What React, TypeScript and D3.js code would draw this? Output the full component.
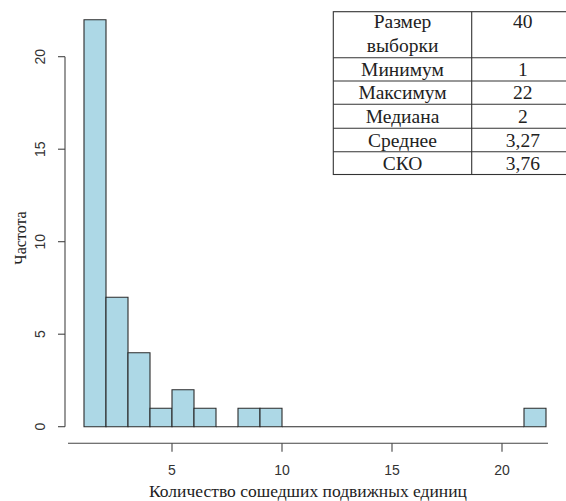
import React, { useEffect, useRef } from "react";
import * as d3 from "d3";

// histogram: bins of width 1 starting at 1
const binStart = 1;
const counts = [22, 7, 4, 1, 2, 1, 0, 1, 1, 0, 0, 0, 0, 0, 0, 0, 0, 0, 0, 0, 1];
const xTicks = [5, 10, 15, 20];
const yTicks = [0, 5, 10, 15, 20];
const xTitle = "Количество сошедших подвижных единиц";
const yTitle = "Частота";

// summary table
const statNames = [["Размер", "выборки"], ["Минимум"], ["Максимум"], ["Медиана"], ["Среднее"], ["СКО"]];
const statValues = ["40", "1", "22", "2", "3,27", "3,76"];

const W = 566;
const H = 501;
const serif = "'Liberation Serif', 'Times New Roman', 'DejaVu Serif', serif";
const sans = "'Liberation Sans', Arial, sans-serif";

const App = () => {
  const ref = useRef<SVGSVGElement>(null);

  useEffect(() => {
    const svg = d3.select(ref.current);
    svg.selectAll("*").remove();

    const x = d3.scaleLinear().domain([1, 22]).range([84, 546]);
    const y = d3.scaleLinear().domain([0, 20]).range([426.7, 56.7]);

    const bins = counts.map((c, i) => ({ x0: binStart + i, x1: binStart + i + 1, c }));

    svg
      .append("g")
      .selectAll("path")
      .data(bins)
      .join("path")
      .attr("d", (d) => `M${x(d.x0)},${y(0)}V${y(d.c)}H${x(d.x1)}V${y(0)}Z`)
      .attr("fill", "#add8e6")
      .attr("stroke", "#2b2b2b")
      .attr("stroke-width", 1.1);

    // y axis
    const ya = svg.append("g").attr("stroke", "#444").attr("stroke-width", 1.1);
    ya.append("line").attr("x1", 65).attr("x2", 65).attr("y1", y(0)).attr("y2", y(20));
    ya.selectAll("line.t")
      .data(yTicks)
      .join("line")
      .attr("class", "t")
      .attr("x1", 58)
      .attr("x2", 65)
      .attr("y1", (d) => y(d))
      .attr("y2", (d) => y(d));
    svg
      .append("g")
      .selectAll("text")
      .data(yTicks)
      .join("text")
      .attr("transform", (d) => `translate(45,${y(d)}) rotate(-90)`)
      .attr("text-anchor", "middle")
      .style("font-family", sans)
      .attr("font-size", 14)
      .attr("fill", "#333")
      .text((d) => d);

    // x axis
    const xa = svg.append("g").attr("stroke", "#444").attr("stroke-width", 1.1);
    xa.append("line").attr("x1", 68).attr("x2", 548).attr("y1", 443.3).attr("y2", 443.3);
    xa.selectAll("line.t")
      .data(xTicks)
      .join("line")
      .attr("class", "t")
      .attr("x1", (d) => x(d))
      .attr("x2", (d) => x(d))
      .attr("y1", 443.3)
      .attr("y2", 451.7);
    svg
      .append("g")
      .selectAll("text")
      .data(xTicks)
      .join("text")
      .attr("x", (d) => x(d))
      .attr("y", 475)
      .attr("text-anchor", "middle")
      .style("font-family", sans)
      .attr("font-size", 14)
      .attr("fill", "#333")
      .text((d) => d);

    svg
      .append("text")
      .attr("x", 308)
      .attr("y", 496.5)
      .attr("text-anchor", "middle")
      .style("font-family", serif)
      .attr("font-size", 17.5)
      .attr("fill", "#222")
      .text(xTitle);

    svg
      .append("text")
      .attr("transform", `translate(26,238) rotate(-90)`)
      .attr("text-anchor", "middle")
      .style("font-family", serif)
      .attr("font-size", 16)
      .attr("fill", "#222")
      .text(yTitle);

    // table
    const tl = 333.3;
    const tm = 471.7;
    const tr = 574;
    const rowTops = [11.7, 57.7, 81, 104.3, 128.3, 151.7];
    const tb = 174.5;
    const t = svg.append("g");
    t.append("rect")
      .attr("x", tl)
      .attr("y", rowTops[0])
      .attr("width", tr - tl)
      .attr("height", tb - rowTops[0])
      .attr("fill", "white")
      .attr("stroke", "#333")
      .attr("stroke-width", 1.1);
    t.append("line")
      .attr("x1", tm)
      .attr("x2", tm)
      .attr("y1", rowTops[0])
      .attr("y2", tb)
      .attr("stroke", "#333")
      .attr("stroke-width", 1.1);
    t.selectAll("line.r")
      .data(rowTops.slice(1))
      .join("line")
      .attr("class", "r")
      .attr("x1", tl)
      .attr("x2", tr)
      .attr("y1", (d) => d)
      .attr("y2", (d) => d)
      .attr("stroke", "#333")
      .attr("stroke-width", 1.1);

    statNames.forEach((lines, i) => {
      const top = rowTops[i];
      const bottom = i + 1 < rowTops.length ? rowTops[i + 1] : tb;
      lines.forEach((s, j) => {
        t.append("text")
          .attr("x", (tl + tm) / 2)
          .attr("y", i === 0 ? top + 16.5 + j * 24 : bottom - 5)
          .attr("text-anchor", "middle")
          .style("font-family", serif)
          .attr("font-size", 19.5)
          .attr("fill", "#222")
          .text(s);
      });
      t.append("text")
        .attr("x", (tm + tr) / 2)
        .attr("y", i === 0 ? top + 16.5 : bottom - 5)
        .attr("text-anchor", "middle")
        .style("font-family", serif)
        .attr("font-size", 19.5)
        .attr("fill", "#222")
        .text(statValues[i]);
    });
  }, []);

  return (
    <svg
      ref={ref}
      width={W}
      height={H}
      style={{ position: "absolute", left: 0, top: 0, background: "white" }}
    />
  );
};

export default App;
